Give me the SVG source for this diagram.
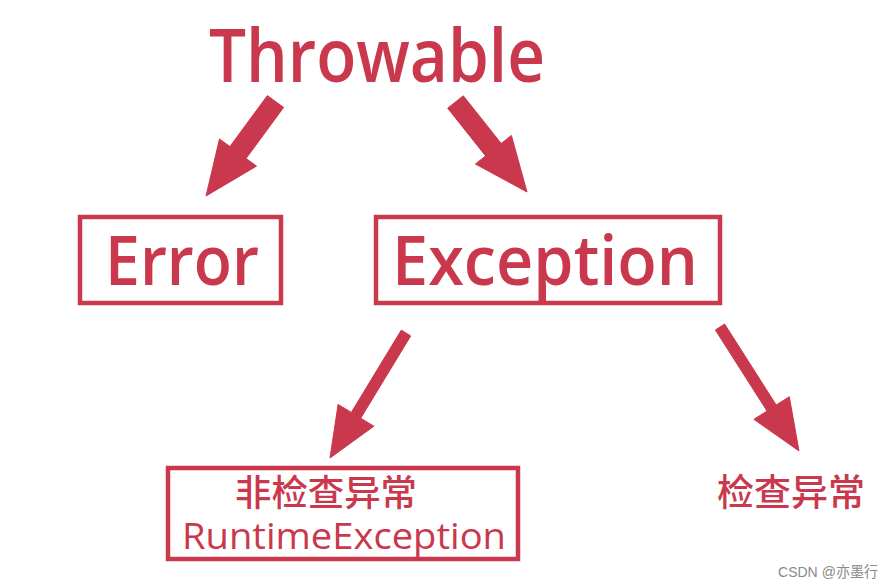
<svg xmlns="http://www.w3.org/2000/svg" width="893" height="588" viewBox="0 0 893 588">
<style>
.box{fill:none;stroke:#c9384c;stroke-width:4.5}
.arr{fill:#c9384c;stroke:#c9384c;stroke-width:1;stroke-linejoin:round}
.lat{font-family:"Open Sans","Liberation Sans",sans-serif;fill:#c9384c}
.cjk{font-family:"Noto Sans CJK SC",sans-serif;fill:#c9384c;font-weight:500}
</style>
<rect width="893" height="588" fill="#ffffff"/>
<g id="connectors">
<polygon class="arr" points="283.6,107.4 246.1,158.4 256.5,166.1 206,196 219.5,138.9 229.9,146.6 267.4,95.6"/>
<polygon class="arr" points="463.3,95.8 501.2,143.5 511.4,135.4 527,192 475.4,164.0 485.6,155.9 447.7,108.2"/>
<polygon class="arr" points="410.7,335.9 360.7,418.2 373.9,426.2 330,458 338.1,404.4 351.3,412.4 401.3,330.1"/>
<polygon class="arr" points="724.6,324.0 776.2,405.0 789.3,396.7 799,451 753.9,419.3 767.0,411.0 715.4,330.0"/>
</g>
<g id="throwable">
<text class="lat" x="209" y="82" font-size="74" font-weight="600" textLength="336" lengthAdjust="spacingAndGlyphs">Throwable</text>
</g>
<g id="error">
<rect class="box" x="80" y="217" width="201" height="86"/>
<text class="lat" x="105" y="285" font-size="69" font-weight="600" textLength="154" lengthAdjust="spacingAndGlyphs">Error</text>
</g>
<g id="exception">
<rect class="box" x="376" y="217" width="344" height="86"/>
<text class="lat" x="392" y="285" font-size="69" font-weight="600" textLength="306" lengthAdjust="spacingAndGlyphs">Exception</text>
</g>
<g id="runtime">
<rect class="box" x="168" y="468" width="350" height="91"/>
<text class="cjk" x="235" y="506" font-size="36" textLength="182" lengthAdjust="spacingAndGlyphs">非检查异常</text>
<text class="lat" x="182" y="549" font-size="36" font-weight="500" textLength="324" lengthAdjust="spacingAndGlyphs">RuntimeException</text>
</g>
<g id="checked">
<text class="cjk" x="717" y="506" font-size="37" textLength="148" lengthAdjust="spacingAndGlyphs">检查异常</text>
</g>
<text x="778" y="577" font-family="'Liberation Sans','Noto Sans CJK SC',sans-serif" font-size="15" fill="#8a8a8a" textLength="100" lengthAdjust="spacingAndGlyphs">CSDN @亦墨行</text>
</svg>
